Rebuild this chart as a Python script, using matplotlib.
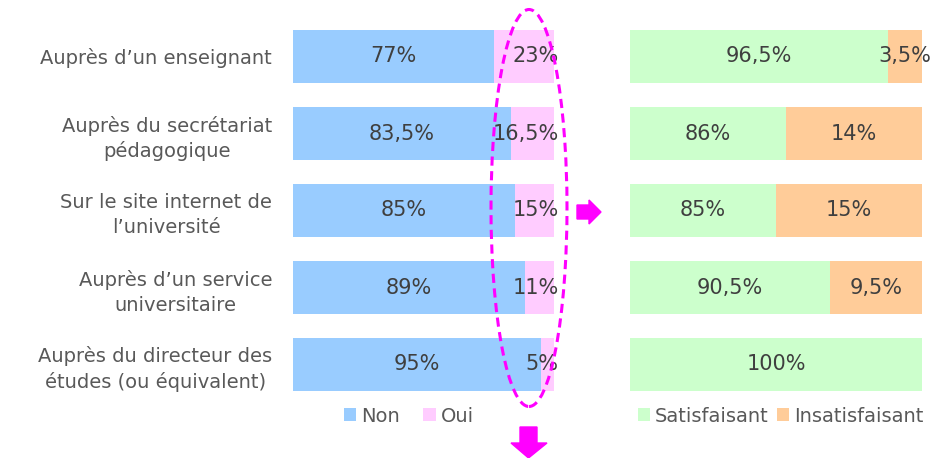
import matplotlib
matplotlib.use("Agg")
import matplotlib.pyplot as plt
from matplotlib.patches import Ellipse, Polygon
import numpy as np

plt.rcParams['font.family'] = ['DejaVu Sans']

categories = ["Auprès d’un enseignant",
              "Auprès du secrétariat\npédagogique",
              "Sur le site internet de\nl’université",
              "Auprès d’un service\nuniversitaire",
              "Auprès du directeur des\nétudes (ou équivalent)"]
non = [77, 83.5, 85, 89, 95]
oui = [23, 16.5, 15, 11, 5]
non_labels = ["77%", "83,5%", "85%", "89%", "95%"]
oui_labels = ["23%", "16,5%", "15%", "11%", "5%"]

satisf = [96.5, 86, 85, 90.5, 100]
insatisf = [3.5, 14, 15, 9.5, 0]
satisf_labels = ["96,5%", "86%", "85%", "90,5%", "100%"]
insatisf_labels = ["3,5%", "14%", "15%", "9,5%", ""]
right_axis_min = 70

C_NON = "#99CCFF"
C_OUI = "#FFCCFF"
C_SAT = "#CCFFCC"
C_INS = "#FFCC99"
TXT = "#3F3F3F"
LAB = "#595959"
MAG = "#FF00FF"

W, H = 935, 458
fig = plt.figure(figsize=(W / 100, H / 100), dpi=100)

def fx(px):
    return px / W

def fy(py):
    return 1 - py / H

ax_bottom = fy(403)
ax_h = 385 / H
axL = fig.add_axes([fx(293), ax_bottom, 261 / W, ax_h])
axR = fig.add_axes([fx(630), ax_bottom, 292 / W, ax_h])

y = np.arange(len(categories))
bh = 53 / 77
VF = 15
CF = 14

bN = axL.barh(y, non, height=bh, color=C_NON, label="Non")
bO = axL.barh(y, oui, left=non, height=bh, color=C_OUI, label="Oui")
for i in range(len(y)):
    axL.text(non[i] / 2, y[i], non_labels[i], ha='center', va='center',
             fontsize=VF, color=TXT)
    axL.text(101.8, y[i], oui_labels[i], ha='right', va='center',
             fontsize=VF, color=TXT)
axL.set_xlim(0, 100)
axL.set_ylim(4.5, -0.5)
axL.set_yticks(y)
axL.set_yticklabels(categories, fontsize=CF, color=LAB, multialignment='center',
                    linespacing=1.37)
axL.tick_params(axis='y', length=0, pad=15)
axL.set_xticks([])
for s in axL.spines.values():
    s.set_visible(False)

bS = axR.barh(y, np.array(satisf) - right_axis_min, left=right_axis_min,
              height=bh, color=C_SAT, label="Satisfaisant")
bI = axR.barh(y, insatisf, left=satisf, height=bh, color=C_INS, label="Insatisfaisant")
for i in range(len(y)):
    axR.text((right_axis_min + satisf[i]) / 2, y[i], satisf_labels[i], ha='center',
             va='center', fontsize=VF, color=TXT)
    if insatisf_labels[i]:
        axR.text(satisf[i] + insatisf[i] / 2, y[i], insatisf_labels[i], ha='center',
                 va='center', fontsize=VF, color=TXT)
axR.set_xlim(right_axis_min, 100)
axR.set_ylim(4.5, -0.5)
axR.set_xticks([])
axR.set_yticks([])
for s in axR.spines.values():
    s.set_visible(False)

legkw = dict(frameon=False, fontsize=CF, handlelength=0.65, handleheight=0.65,
             handletextpad=0.25, borderpad=0, labelcolor=LAB)
fig.legend(handles=[bN, bO], loc='center left', bbox_to_anchor=(fx(334), fy(416)),
           ncol=2, columnspacing=1.2, **legkw)
fig.legend(handles=[bS, bI], loc='center left', bbox_to_anchor=(fx(628), fy(416)),
           ncol=2, columnspacing=0.4, **legkw)

# dashed ellipse highlighting "Oui"
ell = Ellipse((fx(529), fy(208)), width=76 / W, height=397 / H, transform=fig.transFigure,
              fill=False, edgecolor=MAG, linestyle=(0, (3, 1.8)), linewidth=2.2)
fig.patches.append(ell)

# right arrow
ra = [(577, 205), (589, 205), (589, 200), (601, 212), (589, 224), (589, 219), (577, 219)]
fig.patches.append(Polygon([(fx(a), fy(b)) for a, b in ra], closed=True,
                           transform=fig.transFigure, color=MAG))
# down arrow
da = [(520, 427), (537, 427), (537, 443), (547, 443), (528.5, 458), (511, 443), (520, 443)]
fig.patches.append(Polygon([(fx(a), fy(b)) for a, b in da], closed=True,
                           transform=fig.transFigure, color=MAG))

fig.savefig("out.png", dpi=100)
